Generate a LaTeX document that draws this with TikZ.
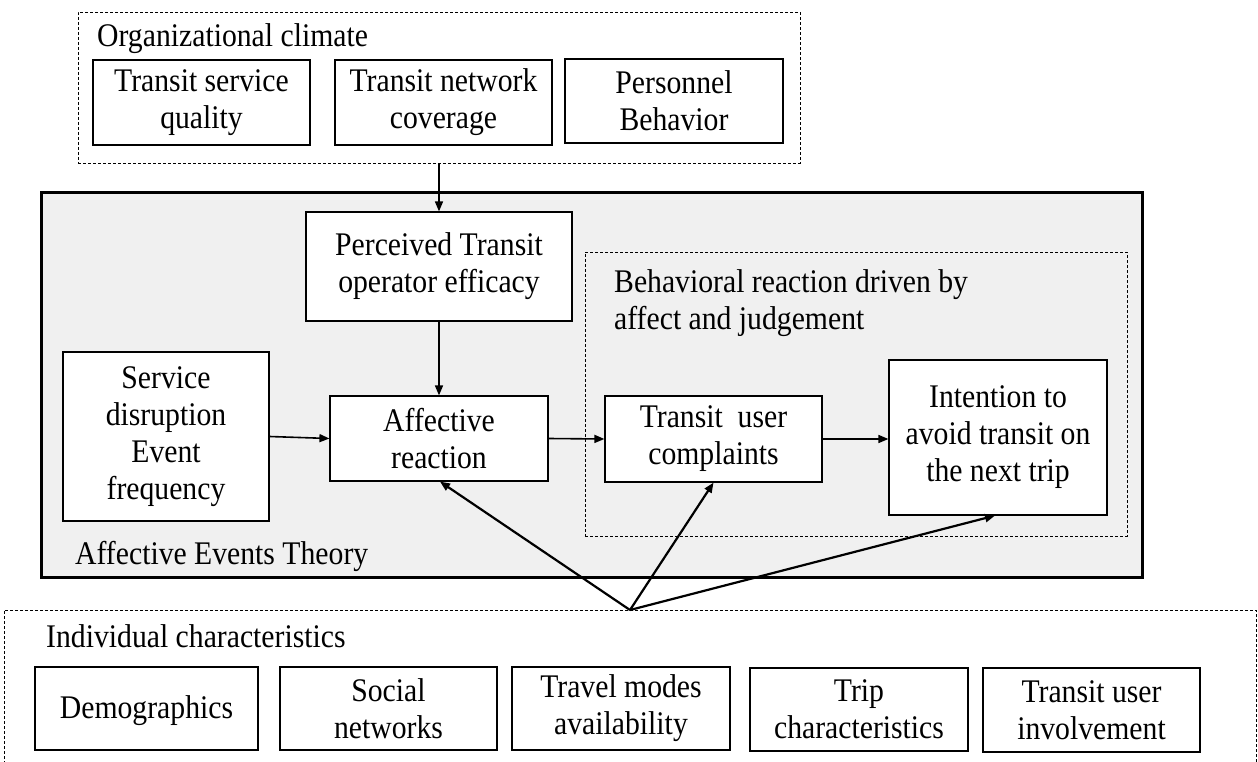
\documentclass[tikz,border=0pt]{standalone}
\usepackage{fontspec}
\setmainfont[FakeStretch=0.9]{Liberation Serif}
\usetikzlibrary{arrows.meta}
\begin{document}
\begin{tikzpicture}[x=1pt,y=-1pt,
  every node/.style={font=\fontsize{33}{37}\selectfont},
  box/.style={draw, line width=1.2pt, fill=white, align=center, inner sep=0pt,
    execute at begin node={\rule{0pt}{28pt}}},
  dbox/.style={draw, dashed, dash pattern=on 3pt off 2pt, line width=0.8pt, inner sep=0pt},
  lbl/.style={anchor=west, inner sep=0pt, align=left},
  arr/.style={-{Triangle[length=10pt,width=8pt]}, line width=1.6pt},
  fanarr/.style={-{Triangle[length=10pt,width=8pt]}, line width=2.2pt}]
\useasboundingbox (0,0) rectangle (1258,762);
\clip (0,0) rectangle (1258,762);
% containers
\node[dbox, minimum width=722pt, minimum height=151pt] (org) at (439,87.5) {};
\node[draw, line width=3pt, fill=black!6, minimum width=1101pt, minimum height=384pt, inner sep=0pt] (aet) at (591.5,385) {};
\node[dbox, fill=black!6, minimum width=542pt, minimum height=284pt] (beh) at (856,394) {};
\node[dbox, minimum width=1252pt, minimum height=170pt] (ind) at (630,695) {};
% labels
\node[lbl] (orgl) at (97,39) {Organizational climate};
\node[lbl] (aetl) at (75,556) {Affective Events Theory};
\node[lbl] (behl) at (614,303) {Behavioral reaction driven by\\affect and judgement};
\node[lbl] (indl) at (46,636) {Individual characteristics};
% top boxes
\node[box, minimum width=217pt, minimum height=85pt] (tsq) at (201.5,102.5) {Transit service\\quality};
\node[box, minimum width=217pt, minimum height=85pt] (tnc) at (443.5,102.5) {Transit network\\coverage};
\node[box, minimum width=218pt, minimum height=84pt] (pb) at (674,101) {Personnel\\Behavior};
% middle boxes
\node[box, minimum width=266pt, minimum height=109pt] (perc) at (439,266.5) {Perceived Transit\\operator efficacy};
\node[box, minimum width=206pt, minimum height=169pt] (sde) at (166,436.5) {Service\\disruption\\Event\\frequency};
\node[box, minimum width=218pt, minimum height=85pt] (aff) at (439,438.5) {Affective\\reaction};
\node[box, minimum width=217pt, minimum height=86pt] (tuc) at (713.5,439) {Transit~~user\\complaints};
\node[box, minimum width=218pt, minimum height=155pt] (int) at (998,437.5) {Intention to\\avoid transit on\\the next trip};
% bottom boxes
\node[box, minimum width=223pt, minimum height=83pt] (dem) at (146.5,708.5) {Demographics};
\node[box, minimum width=217pt, minimum height=83pt] (soc) at (388.5,708.5) {Social\\networks};
\node[box, minimum width=218pt, minimum height=83pt] (tma) at (621,708.5) {Travel modes\\availability};
\node[box, minimum width=218pt, minimum height=83pt] (tch) at (859,709.5) {Trip\\characteristics};
\node[box, minimum width=217pt, minimum height=84pt] (tui) at (1091.5,710) {Transit user\\involvement};
% connectors
\draw[arr] (org.south -| perc.north) -- (perc.north);
\draw[arr] (perc.south) -- (aff.north);
\draw[arr] (sde.east) -- (aff.west);
\draw[arr] (aff.east) -- (tuc.west);
\draw[arr] (tuc.east) -- (tuc.east -| int.west);
\coordinate (fan) at (630,610);
\draw[fanarr] (fan) -- ([xshift=1pt]aff.south);
\draw[fanarr] (fan) -- (tuc.south);
\draw[fanarr] (fan) -- ([xshift=-3pt]int.south);
\end{tikzpicture}
\end{document}
